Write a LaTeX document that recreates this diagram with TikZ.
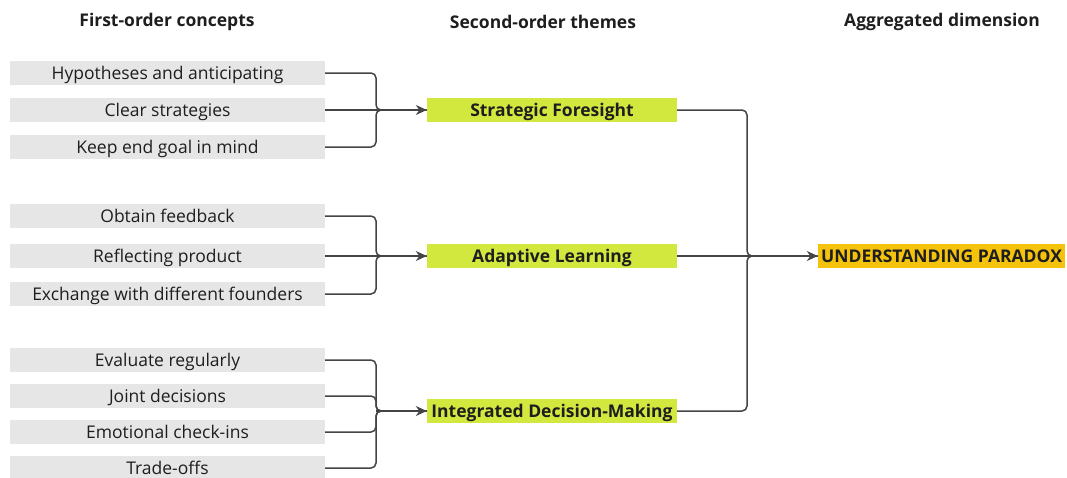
\documentclass[tikz,border=0pt]{standalone}
\usepackage{fontspec}
\setmainfont{Open Sans}
\usetikzlibrary{arrows.meta}
\definecolor{conceptgray}{HTML}{E6E6E6}
\definecolor{themegreen}{HTML}{D3E83F}
\definecolor{dimorange}{HTML}{F5C30C}
\definecolor{linegray}{HTML}{444444}
\definecolor{textdark}{HTML}{1E1E1E}
\tikzset{
  boxbase/.style={minimum height=24pt, inner sep=0pt, text=textdark,
    text height=14.5pt, text depth=1.5pt},
  concept/.style={boxbase, fill=conceptgray, minimum width=315pt,
    font=\fontsize{17.5}{20}\selectfont},
  theme/.style={boxbase, fill=themegreen, minimum width=250pt,
    font=\fontsize{17.5}{20}\selectfont\bfseries},
  dimension/.style={boxbase, fill=dimorange, minimum width=247pt,
    font=\fontsize{17.5}{20}\selectfont\bfseries},
  header/.style={font=\fontsize{17.5}{20}\selectfont\bfseries, text=textdark},
  link/.style={draw=linegray, line width=1.5pt, rounded corners=5pt},
  arrowlink/.style={link, -{Stealth[length=11pt,width=10pt]}},
}
\begin{document}
\begin{tikzpicture}[x=1pt,y=-1pt]
\useasboundingbox (0,0) rectangle (1067,477);

% column headers
\node[header] (h1) at (167,22) {First-order concepts};
\node[header] (h2) at (543,22) {Second-order themes};
\node[header] (h3) at (942,22) {Aggregated dimension};

% first-order concepts
\node[concept] (c1) at (167.5,73) {Hypotheses and anticipating};
\node[concept] (c2) at (167.5,110) {Clear strategies};
\node[concept] (c3) at (167.5,147) {Keep end goal in mind};
\node[concept] (c4) at (167.5,216) {Obtain feedback};
\node[concept] (c5) at (167.5,256) {Reflecting product};
\node[concept] (c6) at (167.5,294) {Exchange with different founders};
\node[concept] (c7) at (167.5,360) {Evaluate regularly};
\node[concept] (c8) at (167.5,396) {Joint decisions};
\node[concept] (c9) at (167.5,432) {Emotional check-ins};
\node[concept] (c10) at (167.5,468) {Trade-offs};

% second-order themes
\node[theme] (t1) at (552,110) {Strategic Foresight};
\node[theme] (t2) at (552,256) {Adaptive Learning};
\node[theme] (t3) at (552,411) {Integrated Decision-Making};

% aggregated dimension
\node[dimension] (d1) at (941.5,256) {UNDERSTANDING PARADOX};

% junction points of the brackets
\coordinate (j1) at (376,110);
\coordinate (j2) at (376,256);
\coordinate (j3) at (376,411);
\coordinate (j4) at (747,256);

% concepts to themes
\foreach \c in {c1,c3}
  \draw[link] (\c.east) -| (j1) -- (t1.west);
\draw[arrowlink] (c2.east) -- (t1.west);

\foreach \c in {c4,c6}
  \draw[link] (\c.east) -| (j2) -- (t2.west);
\draw[arrowlink] (c5.east) -- (t2.west);

\foreach \c in {c7,c8,c9,c10}
  \draw[link] (\c.east) -| (j3) -- (t3.west);
\draw[arrowlink] (j3) -- (t3.west);

% themes to dimension
\foreach \t in {t1,t3}
  \draw[link] (\t.east) -| (j4) -- (d1.west);
\draw[arrowlink] (t2.east) -- (d1.west);
\end{tikzpicture}
\end{document}
